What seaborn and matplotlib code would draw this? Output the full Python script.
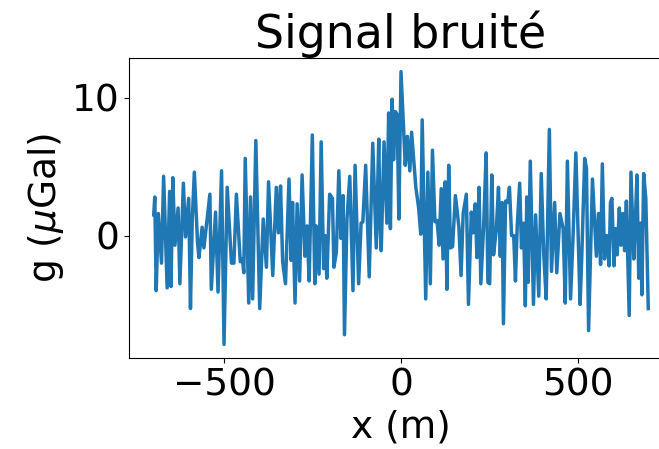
import matplotlib
matplotlib.use("Agg")
import matplotlib.pyplot as plt
import seaborn as sns
import pandas as pd

# Distance along profile (m)
x_m = [
    -700, -697, -693, -687, -678, -672, -662, -655, -651, -646, -640, -631, -626, -616, -610, -601, -596, -591, -585,
    -576, -572, -563, -558, -541, -537, -525, -518, -508, -501, -492, -480, -473, -466, -455,
    -449, -445, -441, -431, -426, -420, -411, -400, -390, -381, -375, -363, -353, -347, -341, -335, -327,
    -317, -311, -307, -300, -294, -287, -280, -272, -266, -260, -251, -244, -240, -232, -226, -219, -215, -210, -202,
    -194, -190, -183, -176, -170, -164, -160, -153, -145, -136, -130, -120, -113, -108, -100, -90, -80, -70,
    -63, -59, -56, -48, -40, -35, -30, -25, -21, -16, -11, -6, 0, 12, 18, 25, 30, 42, 50, 56, 60,
    70, 76, 83, 89, 96, 102, 108, 114, 119, 125, 130, 135, 140, 146, 154, 164, 170, 176, 185, 191,
    199, 204, 210, 215, 221, 226, 234, 241, 246, 251, 257, 262, 270, 276, 281, 286, 290, 296, 302, 307, 313, 319,
    324, 329, 336, 341, 347, 352, 356, 360, 366, 375, 381, 390, 397, 404, 411, 420, 426, 435, 441, 450,
    459, 465, 471, 480, 487, 495, 507, 512, 520, 525, 531, 542, 553, 559, 565, 570, 576, 582,
    589, 593, 597, 603, 607, 612, 618, 623, 628, 633, 638, 646, 651, 659, 663, 668, 673, 678, 682, 687, 693, 700,
]

# Noisy gravity signal (µGal)
g_ugal = [
    1.5, 2.8, -4.0, 1.6, -2.0, 4.3, -3.8, 3.2, -3.7, 4.2, -0.7, 2.0, -3.5, 3.8, -0.1, 2.7, -5.3, 1.1, 4.6,
    -0.5, -1.6, 0.6, -0.9, 3.0, -3.9, 1.7, -4.1, 4.7, -7.9, 3.5, -2.0, -2.0, 3.0, -1.9,
    -1.7, -2.7, 5.6, -4.9, 2.8, -4.6, 6.9, -5.3, 1.2, -2.3, 3.9, -2.9, 3.5, 0.2, 3.6, -1.9, -3.5,
    4.1, -1.8, 2.4, -4.9, 2.3, -3.3, 4.4, -1.5, 0.7, -3.3, 7.3, -3.5, 0.7, -2.8, 6.8, -2.4, 0.0, -3.1, 3.0,
    2.7, -2.3, -1.2, 4.7, -0.2, 2.9, -7.2, 1.2, 4.3, -4.0, 5.1, -3.5, 0.9, 1.0, 5.1, -3.0, 6.7, -0.9,
    7.0, 0.5, -1.1, 6.8, 0.9, 8.9, 0.5, 9.9, 5.5, 9.0, 8.8, 1.2, 11.9, 5.1, 7.2, 4.7, 7.5, 3.5, 2.0, 0.1, 8.4,
    -4.6, 4.6, -3.5, 6.2, 1.0, 1.1, -0.7, 3.4, -1.7, 3.9, -3.9, 5.1, -0.9, -0.8, 2.9, 0.6, -2.9, 1.6, 3.0, -5.0,
    1.7, 0.2, 2.3, -1.6, 3.5, -3.5, 0.7, 6.0, -3.4, -3.5, 4.4, -1.4, 0.5, 3.5, -1.5, 2.4, -6.4, 2.5, 2.4, 3.5, 0.0, 0.0,
    -3.3, 0.7, 3.8, -0.9, 0.9, -5.1, 2.8, -3.4, 5.4, -5.0, 1.5, -4.4, 4.5, -1.3, -4.6, 7.7, -2.6, 2.4, -2.7, 1.6,
    0.5, -4.9, 5.4, -4.6, -0.1, 6.0, -5.0, -1.3, 5.6, 4.9, -6.9, 4.1, -1.5, 1.6, -2.1, 5.2, -1.7, 0.0,
    -2.2, 2.4, 2.7, -2.2, 0.5, -1.4, 2.0, -0.7, 1.6, -1.1, 2.5, -5.8, 4.6, -1.7, 0.7, 4.4, -3.1, 0.9, -4.3, 4.5, 2.7, -5.3,
]

x_ticks = [-500, 0, 500]
y_ticks = [0, 10]
title = "Signal bruité"
xlabel = "x (m)"
ylabel = r"g ($\mu$Gal)"

df = pd.DataFrame({"x": x_m, "g": g_ugal})

plt.rcParams["font.family"] = ["DejaVu Sans"]
plt.rcParams["font.size"] = 27

fig = plt.figure(figsize=(6.59, 4.49), dpi=100)
ax = fig.add_axes([129 / 659, 91 / 449, 544 / 659, 300 / 449])

sns.lineplot(data=df, x="x", y="g", ax=ax, color="#1f77b4", linewidth=2.5)

ax.set_xticks(x_ticks)
ax.set_yticks(y_ticks)
ax.set_title(title, fontsize=33)
ax.set_xlabel(xlabel, fontsize=27)
ax.set_ylabel(ylabel, fontsize=27)
ax.tick_params(labelsize=27)

fig.savefig("out.png", dpi=100)
